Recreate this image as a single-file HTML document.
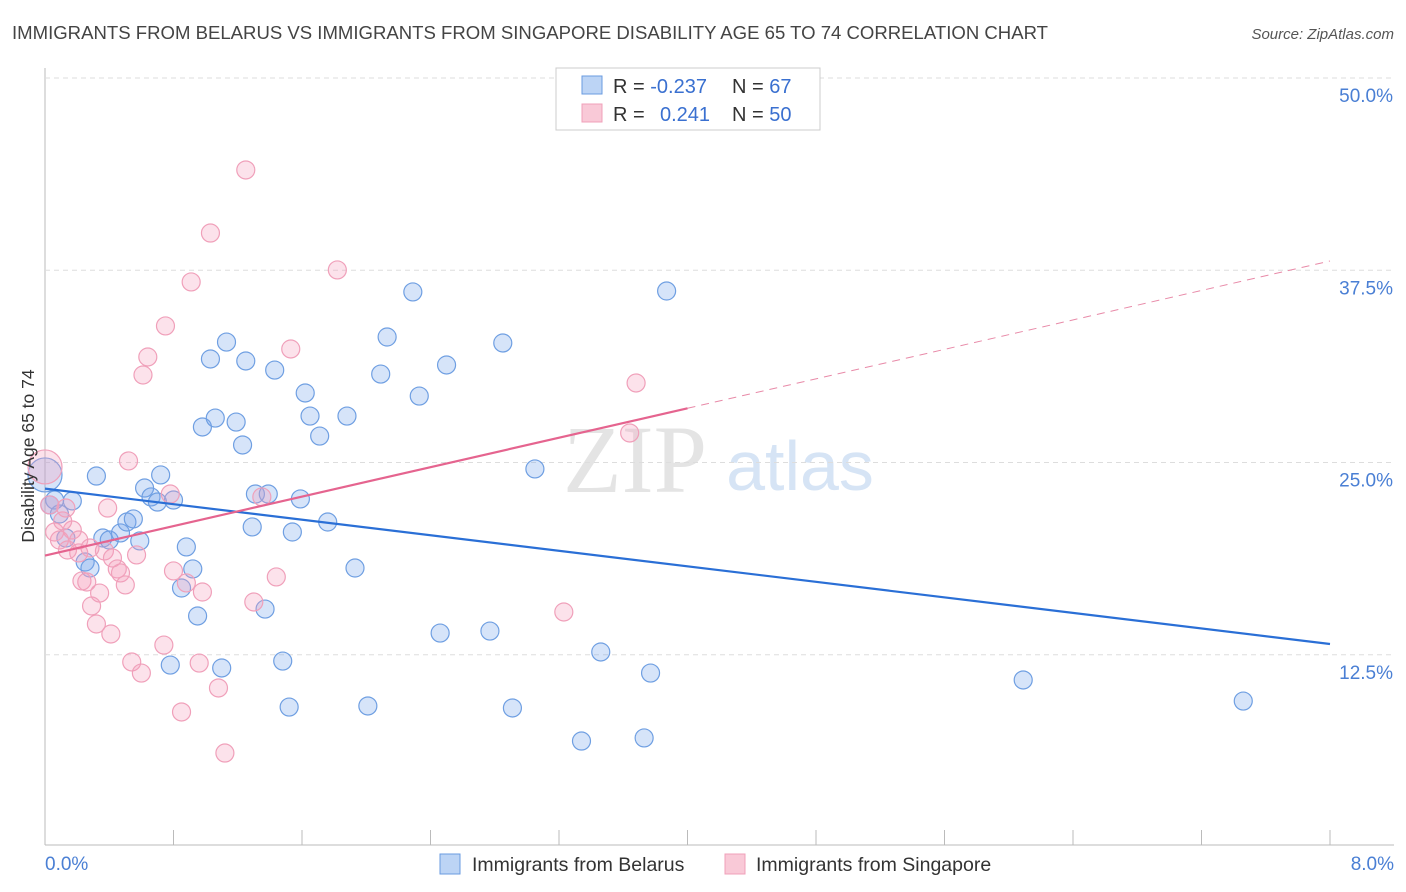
<!DOCTYPE html>
<html><head><meta charset="utf-8"><style>
body{margin:0;background:#fff;font-family:"Liberation Sans",sans-serif;}
svg{display:block}
</style></head><body>
<svg id="c" width="1406" height="892">
<text x="12" y="39" font-size="18.5" fill="#444" textLength="1036" lengthAdjust="spacingAndGlyphs">IMMIGRANTS FROM BELARUS VS IMMIGRANTS FROM SINGAPORE DISABILITY AGE 65 TO 74 CORRELATION CHART</text>
<text x="1394" y="39" font-size="15" fill="#555" font-style="italic" text-anchor="end">Source: ZipAtlas.com</text>
<text x="635" y="492" font-size="96" fill="#e4e4e4" font-family="Liberation Serif,serif" text-anchor="middle">ZIP</text>
<text x="800" y="490" font-size="70" fill="#d6e4f5" text-anchor="middle">atlas</text>
<g id="grid"></g>
<g id="marks"></g>
<text transform="translate(34,456) rotate(-90)" font-size="17.5" fill="#333" text-anchor="middle">Disability Age 65 to 74</text>
<text x="45" y="870" font-size="19" fill="#4a7fd4">0.0%</text>
<text x="1394" y="870" font-size="19" fill="#4a7fd4" text-anchor="end">8.0%</text>
<g>
<rect x="556" y="68" width="264" height="62" fill="#fff" stroke="#ccc"/>
<rect x="582" y="76" width="20" height="18" fill="#bcd4f5" stroke="#6a9be0"/>
<rect x="582" y="104" width="20" height="18" fill="#f9c9d7" stroke="#f0a0ba"/>
<text x="613" y="93" font-size="20" fill="#333">R = <tspan fill="#3a70d0">-0.237</tspan><tspan x="732">N = </tspan><tspan fill="#3a70d0">67</tspan></text>
<text x="613" y="121" font-size="20" fill="#333">R = <tspan x="660" fill="#3a70d0">0.241</tspan><tspan x="732">N = </tspan><tspan fill="#3a70d0">50</tspan></text>
</g>
<g>
<rect x="440" y="854" width="20" height="20" fill="#bcd4f5" stroke="#6a9be0"/>
<text x="472" y="871" font-size="19.5" fill="#333">Immigrants from Belarus</text>
<rect x="725" y="854" width="20" height="20" fill="#f9c9d7" stroke="#f0a0ba"/>
<text x="756" y="871" font-size="19.5" fill="#333">Immigrants from Singapore</text>
</g>
</svg>
<script>
const yTicks=[12.5,25,37.5,50];
const yTickLabels=["12.5%","25.0%","37.5%","50.0%"];
const xTicks=[0,0.8,1.6,2.4,3.2,4,4.8,5.6,6.4,7.2,8];
const belX=[0.06,0.17,0.09,0.32,0.13,0.25,0.28,0.36,0.40,0.47,0.51,0.55,0.59,0.62,0.66,0.70,0.72,0.80,0.88,0.92,0.85,0.95,0.78,1.10,0.98,1.03,1.06,1.13,1.19,1.23,1.25,1.29,1.31,1.39,1.37,1.43,1.48,1.52,1.54,1.59,1.62,1.65,1.71,1.76,1.88,1.93,2.01,2.09,2.13,2.29,2.33,2.46,2.50,2.77,2.85,2.91,3.05,3.34,3.46,3.73,3.77,3.87,6.09,7.46,0.00,0.03];
const belY=[22.56,22.50,21.65,24.12,20.09,18.53,18.14,20.09,19.96,20.42,21.13,21.33,19.90,23.34,22.76,22.43,24.19,22.56,19.51,18.08,16.84,15.02,11.83,11.64,27.31,31.73,27.89,32.83,27.63,26.14,31.60,20.81,22.95,22.95,15.47,31.01,12.09,9.10,20.48,22.63,29.52,28.02,26.72,21.13,28.02,18.14,9.17,30.75,33.16,36.09,29.32,13.91,31.34,14.04,32.77,9.04,24.58,6.89,12.68,7.09,11.31,36.15,10.86,9.49,24.19,22.24];
const belSize=belX.map((v,i)=>i===64?17:9);
const sinX=[0.00,0.03,0.06,0.09,0.14,0.17,0.21,0.23,0.26,0.29,0.32,0.34,0.37,0.39,0.41,0.42,0.45,0.47,0.50,0.52,0.54,0.57,0.60,0.61,0.64,0.74,0.75,0.78,0.80,0.85,0.88,0.91,0.96,0.98,1.03,1.08,1.12,1.25,1.30,1.35,1.44,1.53,1.82,3.23,3.64,3.68,0.11,0.21,0.13,0.28];
const sinY=[24.71,22.24,20.48,19.96,19.31,20.61,19.12,17.30,17.23,15.67,14.50,16.51,19.25,22.04,13.85,18.79,18.08,17.82,17.04,25.10,12.03,18.99,11.31,30.69,31.86,13.13,33.88,22.95,17.95,8.78,17.17,36.74,11.96,16.58,39.92,10.34,6.11,44.02,15.93,22.76,17.56,32.38,37.52,15.28,26.92,30.17,21.20,19.96,22.04,19.44];
const sinSize=sinX.map((v,i)=>i===0?17:9);
const belTrend=[23.3,13.2];
const sinTrend=[18.95,38.1];
const X=v=>45+v/8*1285, Y=v=>847-v*15.38;
const NS="http://www.w3.org/2000/svg";
const grid=document.getElementById('grid'), marks=document.getElementById('marks');
function mk(t,a,p){const e=document.createElementNS(NS,t);for(const k in a)e.setAttribute(k,a[k]);p.appendChild(e);return e;}
let ax=mk('line',{x1:45,y1:68,x2:45,y2:845,stroke:'#bbb'},grid);


let bx=mk('line',{x1:45,y1:845,x2:1394,y2:845,stroke:'#bbb'},grid);


yTicks.forEach((t,i)=>{
 const g=mk('line',{x1:45,x2:1394,y1:Y(t),y2:Y(t),stroke:'#ddd','stroke-dasharray':'5,4'},grid);
 
 
 const l=mk('text',{x:1393,y:Y(t)+24,'font-size':19,fill:'#4a7fd4','text-anchor':'end'},grid);
 l.textContent=yTickLabels[i];
 
 
});
xTicks.forEach(t=>{
 const m=mk('line',{x1:X(t),x2:X(t),y1:830,y2:845,stroke:'#bbb'},grid);
 
 
});
function dots(xs,ys,sz,fill,stroke,name){
 xs.forEach((v,i)=>{
  const c=mk('circle',{cx:X(v),cy:Y(ys[i]),r:sz[i],fill:fill,stroke:stroke,'stroke-width':1.2},marks);
  
  
 });
}
dots(belX,belY,belSize,'rgba(120,165,235,0.3)','#6f9fe2','belarus-point');
dots(sinX,sinY,sinSize,'rgba(245,160,190,0.3)','#f0a0ba','singapore-point');
let bl=mk('line',{x1:X(0),y1:Y(belTrend[0]),x2:X(8),y2:Y(belTrend[1]),stroke:'#2a6fd6','stroke-width':2.2},marks);


const sAt=x=>sinTrend[0]+(sinTrend[1]-sinTrend[0])*x/8;
let sl=mk('line',{x1:X(0),y1:Y(sAt(0)),x2:X(4),y2:Y(sAt(4)),stroke:'#e5648f','stroke-width':2.2},marks);


let sd=mk('line',{x1:X(4),y1:Y(sAt(4)),x2:X(8),y2:Y(sAt(8)),stroke:'#e88aa8','stroke-width':1,'stroke-dasharray':'8,6'},marks);


</script>
</body></html>
